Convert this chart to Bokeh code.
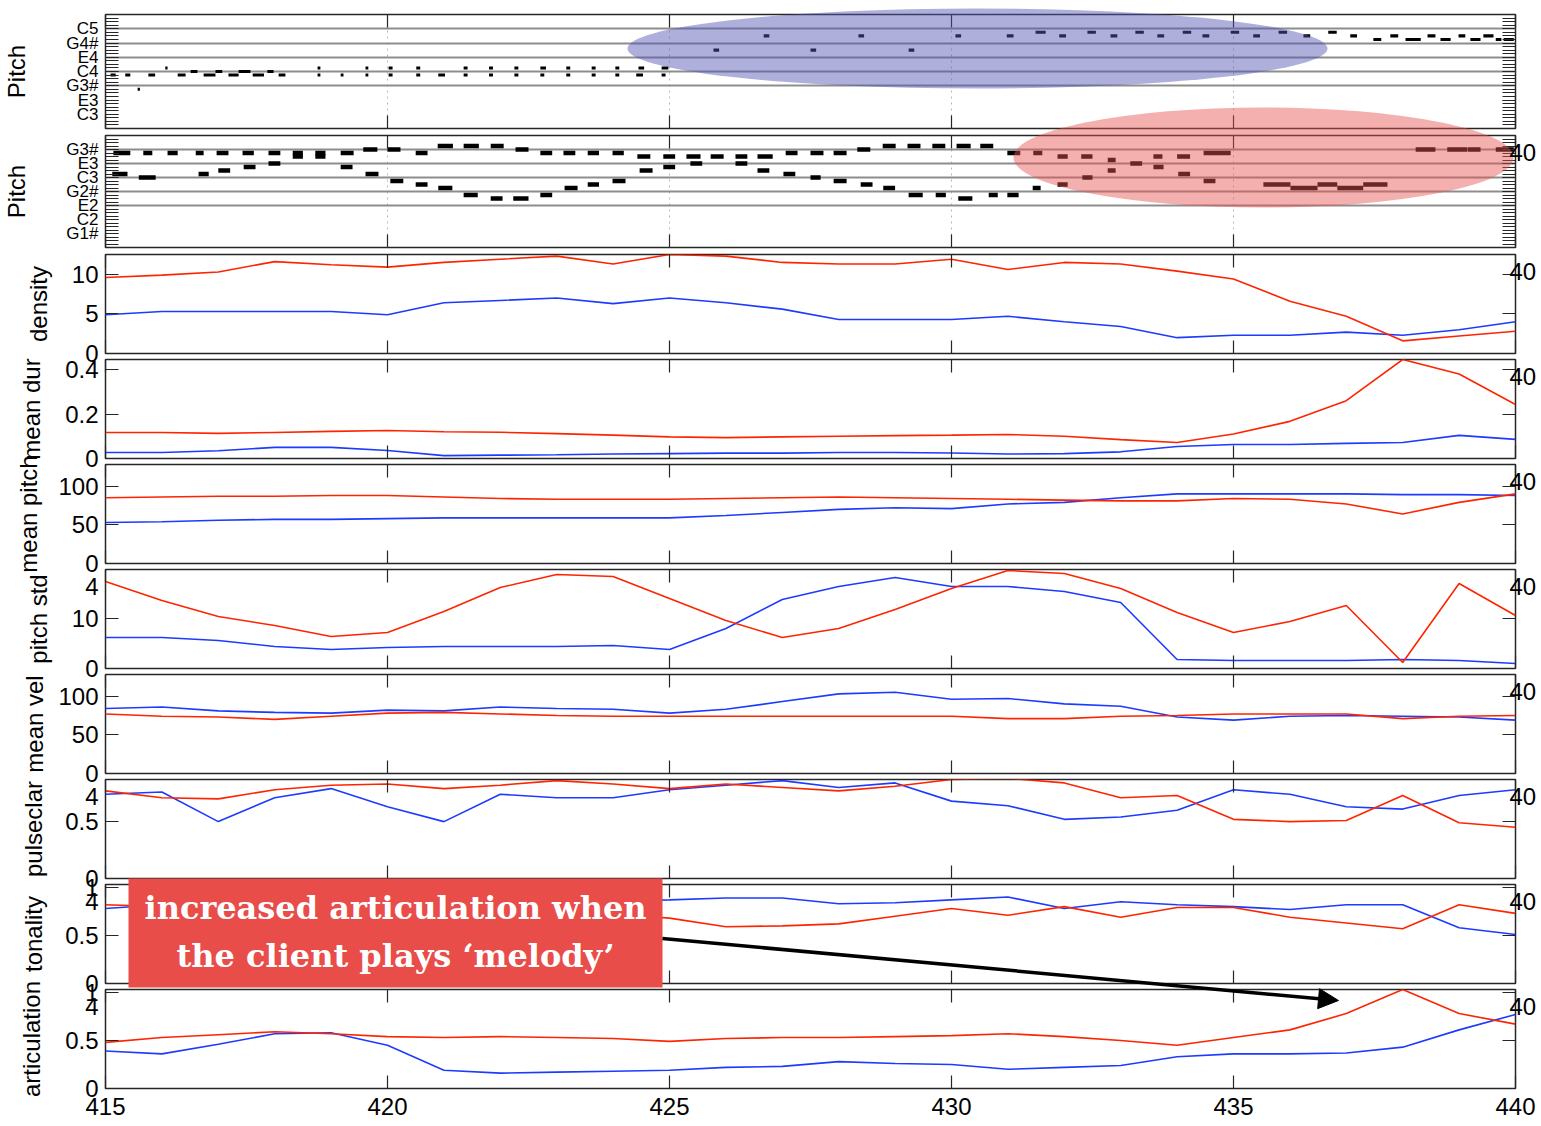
import numpy as np
from bokeh.plotting import figure
from bokeh.layouts import column
from bokeh.models import (FixedTicker, LinearAxis, Range1d, Label, BoxAnnotation,
                          Arrow, NormalHead, Grid)
from bokeh.embed import file_html
from bokeh.resources import INLINE

# ------------------------------------------------------------------ data
T = [415, 416, 417, 418, 419, 420, 421, 422, 423, 424, 425, 426, 427,
     428, 429, 430, 431, 432, 433, 434, 435, 436, 437, 438, 439, 440]

DENSITY_R = [9.6, 9.9, 10.3, 11.6, 11.2, 10.9, 11.5, 11.9, 12.3, 11.3, 12.5, 12.3, 11.5,
             11.3, 11.3, 11.9, 10.6, 11.5, 11.3, 10.4, 9.4, 6.6, 4.7, 1.6, 2.2, 2.8]
DENSITY_B = [4.9, 5.3, 5.3, 5.3, 5.3, 4.9, 6.4, 6.7, 7.0, 6.3, 7.0, 6.4, 5.6,
             4.3, 4.3, 4.3, 4.7, 4.0, 3.4, 2.0, 2.3, 2.3, 2.7, 2.3, 3.0, 4.0]
MEANDUR_R = [0.117, 0.117, 0.113, 0.117, 0.122, 0.126, 0.120, 0.118, 0.112, 0.105, 0.097, 0.094, 0.097,
             0.100, 0.103, 0.105, 0.108, 0.100, 0.085, 0.072, 0.110, 0.167, 0.260, 0.445, 0.380, 0.243]
MEANDUR_B = [0.027, 0.027, 0.035, 0.050, 0.050, 0.036, 0.013, 0.015, 0.017, 0.020, 0.022, 0.024, 0.024,
             0.027, 0.027, 0.025, 0.020, 0.022, 0.030, 0.054, 0.063, 0.063, 0.068, 0.072, 0.104, 0.086]
MEANPITCH_R = [85, 86, 87, 87, 88, 88, 86, 84, 83, 83, 83, 84, 85,
               86, 85, 84, 83, 82, 81, 81, 84, 83, 77, 64, 79, 90]
MEANPITCH_B = [53, 54, 56, 57, 57, 58, 59, 59, 59, 59, 59, 62, 66,
               70, 72, 71, 77, 79, 85, 90, 90, 90, 90, 89, 89, 88]
PITCHSTD_R = [17.4, 13.6, 10.4, 8.6, 6.4, 7.2, 11.4, 16.2, 18.8, 18.4, 14.0, 9.6, 6.2,
              8.0, 11.8, 16.0, 19.6, 19.0, 16.0, 11.2, 7.2, 9.4, 12.6, 1.2, 17.0, 10.6]
PITCHSTD_B = [6.2, 6.2, 5.6, 4.4, 3.8, 4.2, 4.4, 4.4, 4.4, 4.6, 3.8, 8.0, 13.8,
              16.4, 18.2, 16.4, 16.4, 15.4, 13.2, 1.8, 1.6, 1.6, 1.6, 1.8, 1.6, 1.0]
MEANVEL_R = [77, 74, 73, 70, 74, 78, 79, 77, 75, 74, 74, 74, 74,
             74, 74, 74, 71, 71, 74, 75, 77, 77, 77, 71, 74, 75]
MEANVEL_B = [84, 86, 81, 79, 78, 82, 81, 86, 84, 83, 78, 83, 93,
             103, 105, 96, 97, 90, 87, 73, 69, 74, 75, 74, 73, 69]
PULSE_R = [0.77, 0.71, 0.70, 0.78, 0.82, 0.83, 0.79, 0.82, 0.86, 0.83, 0.79, 0.83, 0.80,
           0.77, 0.81, 0.87, 0.88, 0.84, 0.71, 0.73, 0.52, 0.50, 0.51, 0.73, 0.49, 0.45]
PULSE_B = [0.74, 0.76, 0.50, 0.71, 0.79, 0.63, 0.50, 0.74, 0.71, 0.71, 0.78, 0.82, 0.86,
           0.80, 0.84, 0.68, 0.64, 0.52, 0.54, 0.60, 0.78, 0.74, 0.63, 0.61, 0.73, 0.78]
TONAL_R = [0.82, 0.80, 0.78, 0.80, 0.79, 0.77, 0.75, 0.76, 0.74, 0.72, 0.68, 0.59, 0.60,
           0.62, 0.70, 0.78, 0.71, 0.80, 0.69, 0.79, 0.79, 0.69, 0.63, 0.57, 0.82, 0.73]
TONAL_B = [0.78, 0.82, 0.85, 0.87, 0.86, 0.84, 0.86, 0.88, 0.85, 0.86, 0.87, 0.89, 0.89,
           0.83, 0.84, 0.87, 0.90, 0.78, 0.85, 0.82, 0.80, 0.77, 0.82, 0.82, 0.58, 0.51]
ARTIC_R = [0.48, 0.53, 0.56, 0.59, 0.57, 0.54, 0.53, 0.54, 0.53, 0.52, 0.49, 0.52, 0.53,
           0.53, 0.54, 0.55, 0.57, 0.54, 0.50, 0.45, 0.53, 0.61, 0.78, 1.03, 0.78, 0.67]
ARTIC_B = [0.39, 0.36, 0.46, 0.57, 0.58, 0.45, 0.19, 0.16, 0.17, 0.18, 0.19, 0.22, 0.23,
           0.28, 0.26, 0.25, 0.20, 0.22, 0.24, 0.33, 0.36, 0.36, 0.37, 0.43, 0.61, 0.77]

# upper piano roll (onset, duration, MIDI pitch)
TREBLE_ON = [415.09, 415.35, 415.76, 416.28, 416.74, 417.18, 417.61, 418.07, 418.76, 419.17,
             419.61, 420.02, 420.51, 420.90, 421.35, 421.80, 422.25, 422.71, 423.17, 423.62,
             424.04, 424.41, 424.86,
             416.51, 416.95, 417.36, 417.87,
             416.06, 418.76, 419.61, 420.02, 420.51, 421.35, 421.80, 422.25, 422.71, 423.17,
             423.62, 424.04, 424.45, 424.86,
             415.57,
             425.78, 427.50, 429.24, 426.67, 428.35, 430.07,
             430.98, 431.49, 431.91, 432.41, 432.82, 433.26, 433.65, 434.10, 434.45, 434.95,
             435.35, 435.80, 436.24, 436.68, 437.07,
             437.48, 437.78, 438.05, 438.44, 438.67, 438.99, 439.20, 439.43, 439.65, 439.79]
TREBLE_DUR = [0.09, 0.09, 0.12, 0.14, 0.21, 0.18, 0.20, 0.12, 0.05, 0.05,
              0.05, 0.07, 0.07, 0.12, 0.07, 0.07, 0.07, 0.07, 0.07, 0.07,
              0.07, 0.12, 0.07,
              0.12, 0.12, 0.21, 0.11,
              0.04, 0.05, 0.05, 0.07, 0.07, 0.07, 0.07, 0.07, 0.10, 0.07,
              0.07, 0.07, 0.10, 0.12,
              0.04,
              0.10, 0.10, 0.10, 0.10, 0.10, 0.10,
              0.12, 0.18, 0.12, 0.15, 0.12, 0.15, 0.12, 0.15, 0.12, 0.15,
              0.12, 0.15, 0.12, 0.15, 0.12,
              0.14, 0.14, 0.27, 0.14, 0.18, 0.12, 0.18, 0.18, 0.10, 0.18]
TREBLE_PITCH = [59, 59, 59, 59, 59, 59, 59, 59, 59, 59,
                59, 59, 59, 59, 59, 59, 59, 59, 59, 59,
                59, 59, 59,
                60, 60, 60, 60,
                61, 61, 61, 61, 61, 61, 61, 61, 61, 61,
                61, 61, 61, 61,
                55,
                66, 66, 66, 70, 70, 70,
                70, 71, 70, 71, 70, 71, 70, 71, 70, 71,
                70, 71, 70, 71, 70,
                69, 70, 69, 70, 69, 70, 69, 70, 69, 69]

# lower piano roll (onset, duration, MIDI pitch)
BASS_ON = [415.14, 415.67, 416.10, 416.60, 416.97, 417.43, 417.89, 418.32, 418.32, 418.72,
           418.72, 419.17, 419.57, 420.00, 420.50, 420.89, 421.35, 421.83, 422.27, 422.71,
           423.12, 423.55, 423.99, 424.43, 424.89, 425.30, 425.73, 426.17, 426.56, 427.06,
           427.50, 427.91, 428.33, 428.78, 429.22, 429.66, 430.09, 430.51, 430.99, 431.45,
           431.88, 432.30, 432.77, 433.58, 434.00, 434.47, 438.23, 438.79, 439.15, 439.65,
           415.12, 415.59, 416.65, 417.00, 417.45, 417.89, 419.17, 419.61, 420.05, 420.50,
           420.90, 421.35, 421.83, 422.23, 422.71, 423.14, 423.55, 423.99, 424.47, 424.89,
           425.37, 426.17, 426.56, 427.02, 427.50, 427.91, 428.39, 428.79, 429.24, 429.72,
           430.12, 430.66, 430.99, 431.44, 431.88, 432.32, 432.77, 433.17, 433.58, 434.02,
           434.47, 435.53, 436.01, 436.49, 436.84, 437.30]
BASS_DUR = [0.30, 0.16, 0.18, 0.14, 0.21, 0.20, 0.21, 0.18, 0.18, 0.18,
            0.18, 0.23, 0.25, 0.23, 0.21, 0.27, 0.27, 0.23, 0.23, 0.21,
            0.21, 0.20, 0.20, 0.23, 0.21, 0.25, 0.23, 0.21, 0.27, 0.21,
            0.23, 0.23, 0.23, 0.23, 0.23, 0.23, 0.25, 0.23, 0.23, 0.16,
            0.18, 0.20, 0.14, 0.16, 0.23, 0.48, 0.35, 0.35, 0.23, 0.32,
            0.27, 0.30, 0.18, 0.21, 0.21, 0.21, 0.21, 0.23, 0.23, 0.21,
            0.25, 0.25, 0.21, 0.27, 0.21, 0.23, 0.20, 0.23, 0.23, 0.21,
            0.21, 0.21, 0.21, 0.21, 0.18, 0.23, 0.21, 0.21, 0.25, 0.18,
            0.25, 0.16, 0.20, 0.14, 0.18, 0.18, 0.14, 0.21, 0.18, 0.21,
            0.21, 0.48, 0.48, 0.35, 0.46, 0.43]
BASS_PITCH = [55, 55, 55, 55, 55, 55, 55, 55, 54, 55,
              54, 55, 56, 56, 55, 57, 57, 57, 56, 55,
              55, 55, 55, 54, 54, 54, 54, 54, 54, 55,
              55, 55, 56, 57, 57, 57, 57, 57, 55, 55,
              54, 54, 53, 54, 54, 55, 56, 56, 56, 56,
              49, 48, 49, 50, 51, 52, 51, 49, 47, 46,
              45, 43, 42, 42, 43, 45, 46, 47, 50, 51,
              52, 52, 50, 49, 48, 47, 46, 45, 43, 43,
              42, 43, 43, 45, 46, 48, 50, 52, 51, 49,
              47, 46, 45, 46, 45, 46]

TREBLE_STAFF = [56, 60, 64, 68, 72]
BASS_STAFF = [40, 44, 48, 52, 56]
TREBLE_RANGE = (44, 76)
BASS_RANGE = (28, 60)
TREBLE_LABELED = [48, 52, 56, 60, 64, 68, 72]
BASS_LABELED = [32, 36, 40, 44, 48, 52, 56]

X_TICKS = [415, 420, 425, 430, 435, 440]
GRID_TICKS = [420, 425, 430, 435]

NOTE_NAMES = ["C", "C#", "D", "D#", "E", "F", "F#", "G", "G#", "A", "A#", "B"]


def note_label(m):
    n = NOTE_NAMES[m % 12]
    return n[0] + str(m // 12 - 1) + ("#" if len(n) > 1 else "")


# ------------------------------------------------------------------ layout / style
FONT = "Liberation Sans"
RED = "#ff2400"
BLUE = "#1d3bff"
INK = "#262626"
W = 1541
PAGE_H = 1124
XR = Range1d(415, 440)

FIG_H = [150, 156, 143, 143, 143, 143, 143, 143, 143, 157]
BORDER_T = [14, 22, 22, 22, 22, 22, 22, 22, 22, 22]
BORDER_B = [22, 22, 22, 22, 22, 22, 22, 22, 22, 36]
MARGIN_T = [0, -37, -37, -38, -38, -38, -38, -38, -38, -38]
FRAME_TOP = [14, 135, 254, 359, 464, 569, 674, 779, 884, 989]   # page px (for stray labels)


def base(i, yr):
    p = figure(width=W, height=FIG_H[i], x_range=XR, y_range=Range1d(*yr),
               output_backend="svg", toolbar_location=None, title=None,
               x_axis_location=None, y_axis_location=None,
               min_border_left=105, min_border_right=26,
               min_border_top=BORDER_T[i], min_border_bottom=BORDER_B[i],
               background_fill_color=None, border_fill_color=None,
               outline_line_color=INK, outline_line_width=1.5)
    p.margin = (MARGIN_T[i], 0, 0, 0)
    p.xgrid.visible = False
    p.ygrid.visible = False
    return p


def style_axis(ax, show_labels, size="24px", standoff=7):
    ax.major_tick_in = 13
    ax.major_tick_out = 0
    ax.minor_tick_in = 13
    ax.minor_tick_out = 0
    ax.major_tick_line_color = INK
    ax.minor_tick_line_color = INK
    ax.major_tick_line_width = 1.2
    ax.minor_tick_line_width = 1.0
    ax.axis_line_color = None
    ax.major_label_text_font = FONT
    if show_labels:
        ax.major_label_text_color = "black"
        ax.major_label_text_font_size = size
        ax.major_label_standoff = standoff
    else:
        ax.major_label_text_color = None
        ax.major_label_text_font_size = "1px"
        ax.major_label_standoff = 0


def add_axes(p, yticks, ylabels, ylabel, lab_standoff, minor=None,
             show_x=False, ytick_size="24px"):
    for loc in ("left", "right"):
        ax = LinearAxis(ticker=FixedTicker(ticks=yticks, minor_ticks=minor or []))
        style_axis(ax, loc == "left", ytick_size)
        if loc == "left":
            ax.major_label_overrides = dict(zip(yticks, ylabels))
            ax.axis_label = ylabel
            ax.axis_label_text_font = FONT
            ax.axis_label_text_font_size = "24px"
            ax.axis_label_text_font_style = "normal"
            ax.axis_label_text_color = "black"
            ax.axis_label_standoff = lab_standoff
        p.add_layout(ax, loc)
    for loc in ("below", "above"):
        ax = LinearAxis(ticker=FixedTicker(ticks=X_TICKS, minor_ticks=[]))
        style_axis(ax, show_x and loc == "below", "24px", 9)
        p.add_layout(ax, loc)


figs = []

# ---------------- piano roll panels
for i, (rng, staff, on, dur, pitch, nh, labeled) in enumerate([
        (TREBLE_RANGE, TREBLE_STAFF, TREBLE_ON, TREBLE_DUR, TREBLE_PITCH, 0.85, TREBLE_LABELED),
        (BASS_RANGE, BASS_STAFF, BASS_ON, BASS_DUR, BASS_PITCH, 1.3, BASS_LABELED)]):
    p = base(i, rng)
    p.add_layout(Grid(dimension=0, ticker=FixedTicker(ticks=GRID_TICKS),
                      grid_line_color="#b8b8b8", grid_line_dash="dotted",
                      grid_line_width=1))
    p.hspan(y=staff, line_color="#8d8d8d", line_width=2.2)
    p.hbar(y=pitch, left=on, right=np.add(on, dur), height=nh,
           fill_color="black", line_color=None)
    semis = list(range(rng[0], rng[1] + 1))
    add_axes(p, labeled, [note_label(m) for m in labeled], "Pitch", 33,
             minor=semis, ytick_size="17px")
    figs.append(p)

# ---------------- feature panels
PANELS = [
    ("density", DENSITY_R, DENSITY_B, (0, 12.5), [0, 5, 10], ["0", "5", "10"], 17),
    ("mean dur", MEANDUR_R, MEANDUR_B, (0, 0.445), [0, 0.2, 0.4], ["0", "0.2", "0.4"], 17),
    ("mean pitch", MEANPITCH_R, MEANPITCH_B, (0, 128), [0, 50, 100], ["0", "50", "100"], 13),
    ("pitch std", PITCHSTD_R, PITCHSTD_B, (0, 19.8), [0, 10], ["0", "10"], 17),
    ("mean vel", MEANVEL_R, MEANVEL_B, (0, 128), [0, 50, 100], ["0", "50", "100"], 7),
    ("pulseclar", PULSE_R, PULSE_B, (0, 0.87), [0, 0.5], ["0", "0.5"], 15),
    ("tonality", TONAL_R, TONAL_B, (0, 1.03), [0, 0.5, 1], ["0", "0.5", "1"], 15),
    ("articulation", ARTIC_R, ARTIC_B, (0, 1.03), [0, 0.5, 1], ["0", "0.5", "1"], 17),
]

for k, (name, r, b, rng, ticks, labels, so) in enumerate(PANELS):
    i = k + 2
    p = base(i, rng)
    p.line(T, b, line_color=BLUE, line_width=1.6)
    p.line(T, r, line_color=RED, line_width=1.6)
    add_axes(p, ticks, labels, name, so, show_x=(i == 9))
    figs.append(p)

# ---------------- transparent overlay for highlights and call-out (page pixels)
BLUE_HL = dict(cx=977, cy=48, w=700, h=80)
RED_HL = dict(cx=1263, cy=157, w=500, h=100)
CALLOUT_BOX = dict(left=128, right=662, top=878, bottom=987)
CALLOUT_LINES = [("increased articulation when", 907), ("the client plays \u2018melody\u2019", 955)]
CALLOUT_X = 395
ARROW = dict(x_start=662, y_start=938, x_end=1338, y_end=1000)
STRAY_RIGHT_PANELS = [1, 2, 3, 4, 5, 6, 7, 8, 9]
STRAY_LEFT_PANELS = [5, 7, 8, 9]

ov = figure(width=W, height=PAGE_H, x_range=Range1d(0, W), y_range=Range1d(PAGE_H, 0),
            output_backend="svg", toolbar_location=None, title=None,
            x_axis_location=None, y_axis_location=None,
            min_border_left=0, min_border_right=0, min_border_top=0, min_border_bottom=0,
            background_fill_color=None, border_fill_color=None, outline_line_color=None)
if "frame_align" in ov.properties():
    ov.frame_align = False
ov.margin = (-PAGE_H, 0, 0, 0)
ov.xgrid.visible = False
ov.ygrid.visible = False

ov.ellipse(x=[BLUE_HL["cx"]], y=[BLUE_HL["cy"]], width=[BLUE_HL["w"]], height=[BLUE_HL["h"]],
           width_units="screen", height_units="screen",
           fill_color="#5357b3", fill_alpha=0.47, line_color=None)
ov.ellipse(x=[RED_HL["cx"]], y=[RED_HL["cy"]], width=[RED_HL["w"]], height=[RED_HL["h"]],
           width_units="screen", height_units="screen",
           fill_color="#e65050", fill_alpha=0.46, line_color=None)

for j in STRAY_RIGHT_PANELS:
    ov.add_layout(Label(x=1509, y=FRAME_TOP[j] + 17, text="40", text_font=FONT,
                        text_color="black", text_font_size="24px",
                        text_baseline="middle", text_align="left"))
for j in STRAY_LEFT_PANELS:
    ov.add_layout(Label(x=98, y=FRAME_TOP[j] + 17, text="4", text_font=FONT,
                        text_color="black", text_font_size="24px",
                        text_baseline="middle", text_align="right"))

ov.add_layout(BoxAnnotation(fill_color="#e84d4a", fill_alpha=1.0, line_color=None,
                            level="overlay", **CALLOUT_BOX))
for txt, yy in CALLOUT_LINES:
    ov.add_layout(Label(x=CALLOUT_X, y=yy, text=txt, text_align="center",
                        text_baseline="middle", text_color="white",
                        text_font="DejaVu Serif", text_font_style="bold",
                        text_font_size="32px", level="overlay"))
ov.add_layout(Arrow(end=NormalHead(size=20, fill_color="black", line_color="black"),
                    line_color="black", line_width=3.5, level="overlay", **ARROW))
figs.append(ov)

layout = column(*figs, spacing=0)
open("out.html", "w").write(file_html(layout, INLINE))
